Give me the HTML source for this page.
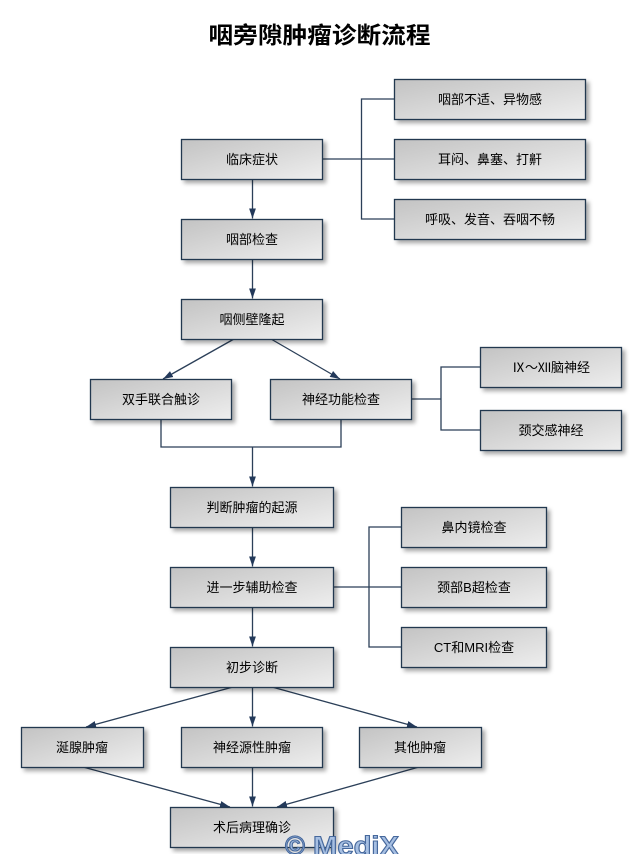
<!DOCTYPE html>
<html><head><meta charset="utf-8"><style>
html,body{margin:0;padding:0;background:#fff;}
svg{display:block;}
text{font-family:"Liberation Sans","Noto Sans CJK SC",sans-serif;}
</style></head><body>
<svg width="642" height="854" viewBox="0 0 642 854" xmlns="http://www.w3.org/2000/svg">
<defs>
<linearGradient id="g" x1="0" y1="0" x2="1" y2="1">
<stop offset="0" stop-color="#c3c3c3"/>
<stop offset="1" stop-color="#eeeeee"/>
</linearGradient>
<filter id="sh" x="-10%" y="-20%" width="130%" height="160%">
<feDropShadow dx="3" dy="3" stdDeviation="2" flood-color="#000" flood-opacity="0.35"/>
</filter>
<marker id="ar" markerWidth="10" markerHeight="8" refX="10" refY="4" orient="auto" markerUnits="userSpaceOnUse">
<path d="M0,0.6 L10,4 L0,7.4 z" fill="#23395a"/>
</marker>
</defs>
<rect width="642" height="854" fill="#fff"/>

<text x="319.5" y="43" font-size="23" font-weight="bold" text-anchor="middle" textLength="222" lengthAdjust="spacingAndGlyphs" fill="#000">咽旁隙肿瘤诊断流程</text>

<g stroke="#2b3f58" stroke-width="1.3" fill="none">
<line x1="322" y1="159" x2="394" y2="159"/>
<polyline points="394,99 361.5,99 361.5,219 394,219"/>
<line x1="252.5" y1="179" x2="252.5" y2="218.5" marker-end="url(#ar)"/>
<line x1="252.5" y1="259" x2="252.5" y2="298.5" marker-end="url(#ar)"/>
<line x1="234" y1="339" x2="163" y2="379" marker-end="url(#ar)"/>
<line x1="271" y1="339" x2="340" y2="379" marker-end="url(#ar)"/>
<line x1="411" y1="399" x2="441" y2="399"/>
<polyline points="480,367 441,367 441,430 480,430"/>
<polyline points="161,419 161,447 341,447 341,419"/>
<line x1="252.5" y1="447" x2="252.5" y2="486.5" marker-end="url(#ar)"/>
<line x1="252.5" y1="527" x2="252.5" y2="566.5" marker-end="url(#ar)"/>
<line x1="252.5" y1="607" x2="252.5" y2="646.5" marker-end="url(#ar)"/>
<line x1="333.5" y1="587" x2="401" y2="587"/>
<polyline points="401,527 369,527 369,647 401,647"/>
<line x1="233" y1="687" x2="86" y2="727" marker-end="url(#ar)"/>
<line x1="252.5" y1="687" x2="252.5" y2="726.5" marker-end="url(#ar)"/>
<line x1="272" y1="687" x2="417" y2="727" marker-end="url(#ar)"/>
<line x1="83" y1="767" x2="230" y2="807" marker-end="url(#ar)"/>
<line x1="252.5" y1="767" x2="252.5" y2="806.5" marker-end="url(#ar)"/>
<line x1="419" y1="767" x2="277" y2="807" marker-end="url(#ar)"/>
</g>

<g fill="url(#g)" stroke="#22374f" stroke-width="1.3" filter="url(#sh)">
<rect x="181.5" y="139.5" width="141" height="40"/>
<rect x="394.5" y="79.5" width="191" height="40"/>
<rect x="394.5" y="139.5" width="191" height="40"/>
<rect x="394.5" y="199.5" width="191" height="40"/>
<rect x="181.5" y="219.5" width="141" height="40"/>
<rect x="181.5" y="299.5" width="141" height="40"/>
<rect x="90.5" y="379.5" width="141" height="40"/>
<rect x="270.5" y="379.5" width="141" height="40"/>
<rect x="480.5" y="347.5" width="141" height="40"/>
<rect x="480.5" y="410.5" width="141" height="40"/>
<rect x="170.5" y="487.5" width="163" height="40"/>
<rect x="170.5" y="567.5" width="163" height="40"/>
<rect x="170.5" y="647.5" width="163" height="40"/>
<rect x="401.5" y="507.5" width="145" height="40"/>
<rect x="401.5" y="567.5" width="145" height="40"/>
<rect x="401.5" y="627.5" width="145" height="40"/>
<rect x="21.5" y="727.5" width="122" height="40"/>
<rect x="181.5" y="727.5" width="141" height="40"/>
<rect x="359.5" y="727.5" width="122" height="40"/>
<rect x="170.5" y="807.5" width="163" height="40"/>
</g>

<g font-size="13" fill="#000" text-anchor="middle">
<text x="252" y="164">临床症状</text>
<text x="490" y="104">咽部不适、异物感</text>
<text x="490" y="164">耳闷、鼻塞、打鼾</text>
<text x="490" y="224">呼吸、发音、吞咽不畅</text>
<text x="252" y="244">咽部检查</text>
<text x="252" y="324">咽侧壁隆起</text>
<text x="161" y="404">双手联合触诊</text>
<text x="341" y="404">神经功能检查</text>
<text x="551" y="372">Ⅸ～Ⅻ脑神经</text>
<text x="551" y="435">颈交感神经</text>
<text x="252" y="512">判断肿瘤的起源</text>
<text x="252" y="592">进一步辅助检查</text>
<text x="252" y="672">初步诊断</text>
<text x="474" y="532">鼻内镜检查</text>
<text x="474" y="592">颈部B超检查</text>
<text x="474" y="652">CT和MRI检查</text>
<text x="82" y="752">涎腺肿瘤</text>
<text x="252" y="752">神经源性肿瘤</text>
<text x="420" y="752">其他肿瘤</text>
<text x="252" y="832">术后病理确诊</text>
</g>

<g font-size="27" font-weight="bold" fill="#a6bfe2" stroke="#46689c" stroke-width="1.1">
<text x="285" y="855" textLength="20" lengthAdjust="spacingAndGlyphs">©</text>
<text x="313" y="855" textLength="86" lengthAdjust="spacingAndGlyphs">MediX</text>
</g>
</svg>
</body></html>
